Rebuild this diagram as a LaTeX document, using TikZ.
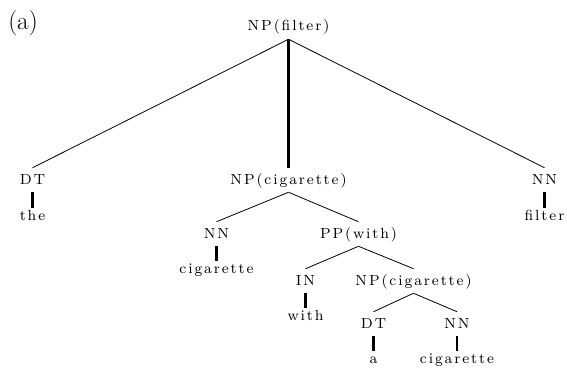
\documentclass[tikz,border=0pt]{standalone}
\usepackage{fontspec}
\newfontfamily\treefont{lmroman8-regular.otf}[LetterSpace=13]
\begin{document}
\begin{tikzpicture}[x=0.75pt,y=-0.75pt,
  cat/.style={anchor=base,inner xsep=0pt,inner ysep=5pt,text height=7pt,text depth=1pt,
    font=\treefont\fontsize{11}{13}\selectfont},
  word/.style={anchor=base,inner xsep=0pt,inner ysep=2pt,text height=7pt,text depth=0pt,
    font=\treefont\fontsize{11}{13}\selectfont},
  branch/.style={line width=0.6pt},
  stem/.style={line width=1.6pt}]
\useasboundingbox (0,0) rectangle (567,371);

% panel label
\node[anchor=base west,inner sep=0pt,font=\fontsize{19}{22}\selectfont] (panel) at (8,29) {(a)};

% phrase and tag nodes
\node[cat] (root)  at (288.5,31)  {NP(filter)};
\node[cat] (dtA)   at (32.5,184)  {DT};
\node[cat] (npA)   at (288.5,184) {NP(cigarette)};
\node[cat] (nnA)   at (544.5,184) {NN};
\node[cat] (nnB)   at (216.5,238) {NN};
\node[cat] (pp)    at (358.5,238) {PP(with)};
\node[cat] (in)    at (305.5,285) {IN};
\node[cat] (npB)   at (413.5,285) {NP(cigarette)};
\node[cat] (dtB)   at (373.5,328) {DT};
\node[cat] (nnC)   at (457,328)   {NN};

% words
\node[word] (wThe)  at (32.5,220)  {the};
\node[word] (wFil)  at (544.5,220) {filter};
\node[word] (wCig1) at (216.5,273) {cigarette};
\node[word] (wWith) at (305.5,320) {with};
\node[word] (wA)    at (373.5,363) {a};
\node[word] (wCig2) at (457,363)   {cigarette};

% branches
\draw[branch] (root.south) -- (dtA.north);
\draw[stem]   (root.south) -- (npA.north);
\draw[branch] (root.south) -- (nnA.north);
\draw[branch] (npA.south) -- (nnB.north);
\draw[branch] (npA.south) -- (pp.north);
\draw[branch] (pp.south) -- (in.north);
\draw[branch] (pp.south) -- (npB.north);
\draw[branch] (npB.south) -- (dtB.north);
\draw[branch] (npB.south) -- (nnC.north);

% tag-to-word stems
\draw[stem] (dtA.south) -- (wThe.north);
\draw[stem] (nnA.south) -- (wFil.north);
\draw[stem] (nnB.south) -- (wCig1.north);
\draw[stem] (in.south) -- (wWith.north);
\draw[stem] (dtB.south) -- (wA.north);
\draw[stem] (nnC.south) -- (wCig2.north);
\end{tikzpicture}
\end{document}
